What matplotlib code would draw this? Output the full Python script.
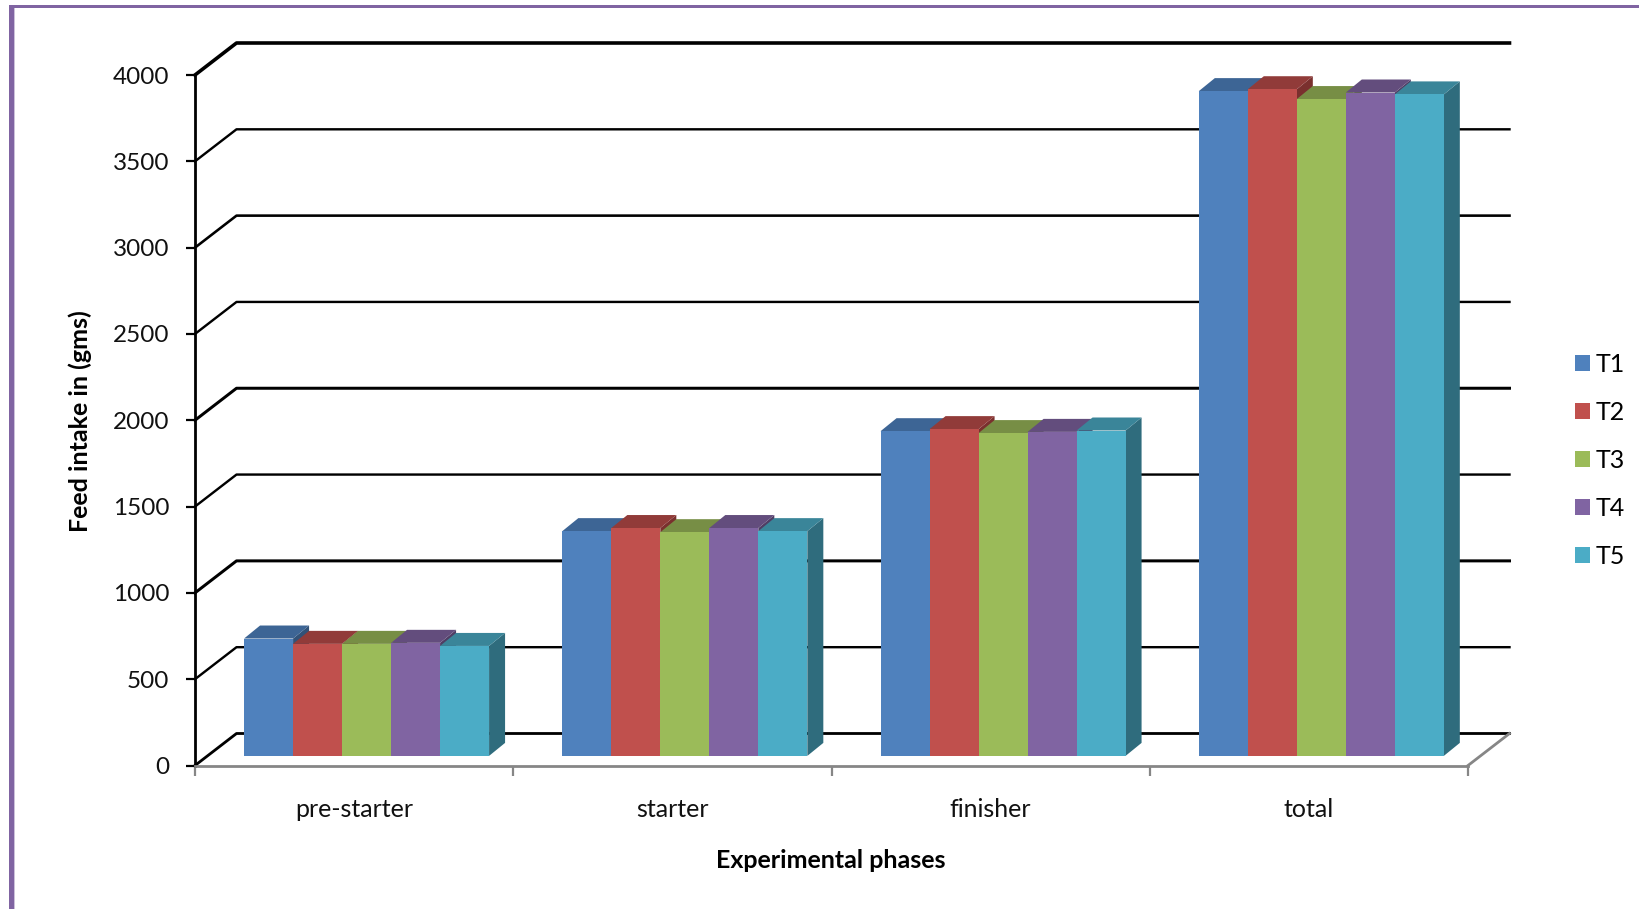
#!/usr/bin/python
# -*- coding: utf-8 -*-
"""
Feed intake per experimental phase, drawn as pseudo 3D clustered columns
"""
import matplotlib
matplotlib.use("Agg")
import matplotlib.pyplot as plt
from matplotlib.patches import Rectangle

#---------------------DATA------------------------
phases = ["pre-starter", "starter", "finisher", "total"]
T1 = [680, 1302, 1881, 3851]
T2 = [649, 1320, 1893, 3862]
T3 = [649, 1296, 1870, 3805]
T4 = [655, 1320, 1877, 3843]
T5 = [637, 1302, 1885, 3832]
treatments = ["T1", "T2", "T3", "T4", "T5"]
yticks = [0, 500, 1000, 1500, 2000, 2500, 3000, 3500, 4000]

#---------------------COLOURS---------------------
front = ["#4F81BD", "#C0504D", "#9BBB59", "#8064A2", "#4BACC6"]
top = ["#3D6595", "#913B39", "#778E45", "#634D7D", "#3A8599"]
side = ["#325278", "#7A302E", "#61743A", "#4F3E65", "#2F6C7D"]
frame = "#8064A2"

#---------------------FONT------------------------
plt.rcParams['font.family'] = ['Lato', 'DejaVu Sans']

W, H = 1639, 909
fig = plt.figure(figsize=(W/100., H/100.), dpi=100)

# frame round the chart area
fig.add_artist(Rectangle((14/W, 0), 1.2/W, 1-8/H, color="#CCC1DA", lw=0))
fig.add_artist(Rectangle((9/W, 0), 5/W, 1-5/H, color=frame, lw=0))
fig.add_artist(Rectangle((9/W, 1-8/H), 1-9/W, 3/H, color=frame, lw=0))

#------------Layout (front plane of the box)------
left, right, bottom, ytop = 195, 1468, 765.5, 75
ax = fig.add_axes([left/W, 1-bottom/H, (right-left)/W, (bottom-ytop)/H])
ax.patch.set_visible(False)
ax.set_xlim(0, 4)
ax.set_ylim(0, 4000)

xpx = 4./(right-left)
ypx = 4000./(bottom-ytop)
dx = 41.5*xpx     # box depth
dy = 32*ypx
barw = 49*xpx
bar_dx = 16*xpx   # column depth
bar_dy = 13*ypx
shift = 0.3       # columns stand this far back on the floor

#------------Walls and floor----------------------
grid_px = [2.8, 2.4, 3.0, 2.4, 3.0, 2.4, 2.6, 2.4, 3.6]
for v, w in zip(yticks, grid_px):
    ax.plot([0, dx, 4+dx], [v, v+dy, v+dy], color="black", lw=w*0.72,
            clip_on=False, solid_joinstyle="round", zorder=1)
ax.plot([4, 4+dx], [0, dy], color="#868686", lw=2.0, clip_on=False, zorder=1)

#------------Columns------------------------------
series = [T1, T2, T3, T4, T5]
gap = (1 - 5*barw)/2.
order = 2
for i in range(len(phases)):
    for j in range(5):
        val = series[j][i]
        x0 = i + gap + j*barw + shift*dx
        y0 = shift*dy
        x1 = x0 + barw
        y1 = y0 + val
        # side, then top, then the front face as a real bar
        ax.fill([x1, x1+bar_dx, x1+bar_dx, x1], [y0, y0+bar_dy, y1+bar_dy, y1],
                color=side[j], lw=0, clip_on=False, zorder=order)
        ax.fill([x0, x0+bar_dx, x1+bar_dx, x1], [y1, y1+bar_dy, y1+bar_dy, y1],
                color=top[j], lw=0, clip_on=False, zorder=order)
        ax.bar(x0, val, barw, bottom=y0, align="edge", color=front[j], lw=0,
               zorder=order, label=treatments[j] if i == 0 else None)
        order += 1

#------------Axes---------------------------------
for s in ["top", "right"]:
    ax.spines[s].set_visible(False)
ax.spines["left"].set_linewidth(2.0)
ax.spines["left"].set_color("black")
ax.spines["bottom"].set_linewidth(2.0)
ax.spines["bottom"].set_color("#868686")
ax.set_yticks(yticks)
ax.tick_params(axis="y", length=6.5, width=1.6, color="black", labelsize=17.5, pad=12)
ax.set_xticks(range(5))
ax.set_xticklabels([])
ax.tick_params(axis="x", which="major", length=7, width=1.6, color="#868686")
ax.set_xticks([i+0.5 for i in range(4)], minor=True)
ax.set_xticklabels(phases, minor=True, fontsize=18)
ax.tick_params(axis="x", which="minor", length=0, pad=23.5)
for lab in ax.get_xticklabels(minor=True)+ax.get_yticklabels():
    lab.set_color("#111111")

fig.text(80/W, 1-421/H, "Feed intake in (gms)", rotation=90, ha="center", va="center",
         fontsize=18, fontweight="bold", color="black")
fig.text(831/W, 1-860/H, "Experimental phases", ha="center", va="center",
         fontsize=18, fontweight="bold", color="black")

#------------Legend-------------------------------
leg = ax.legend(loc="center left", bbox_to_anchor=(1575/W, 1-460/H),
                bbox_transform=fig.transFigure, frameon=False, fontsize=18,
                handlelength=0.6, handleheight=0.6, handletextpad=0.24,
                labelspacing=1.0, borderpad=0, borderaxespad=0)

fig.savefig("out.png", dpi=100)
